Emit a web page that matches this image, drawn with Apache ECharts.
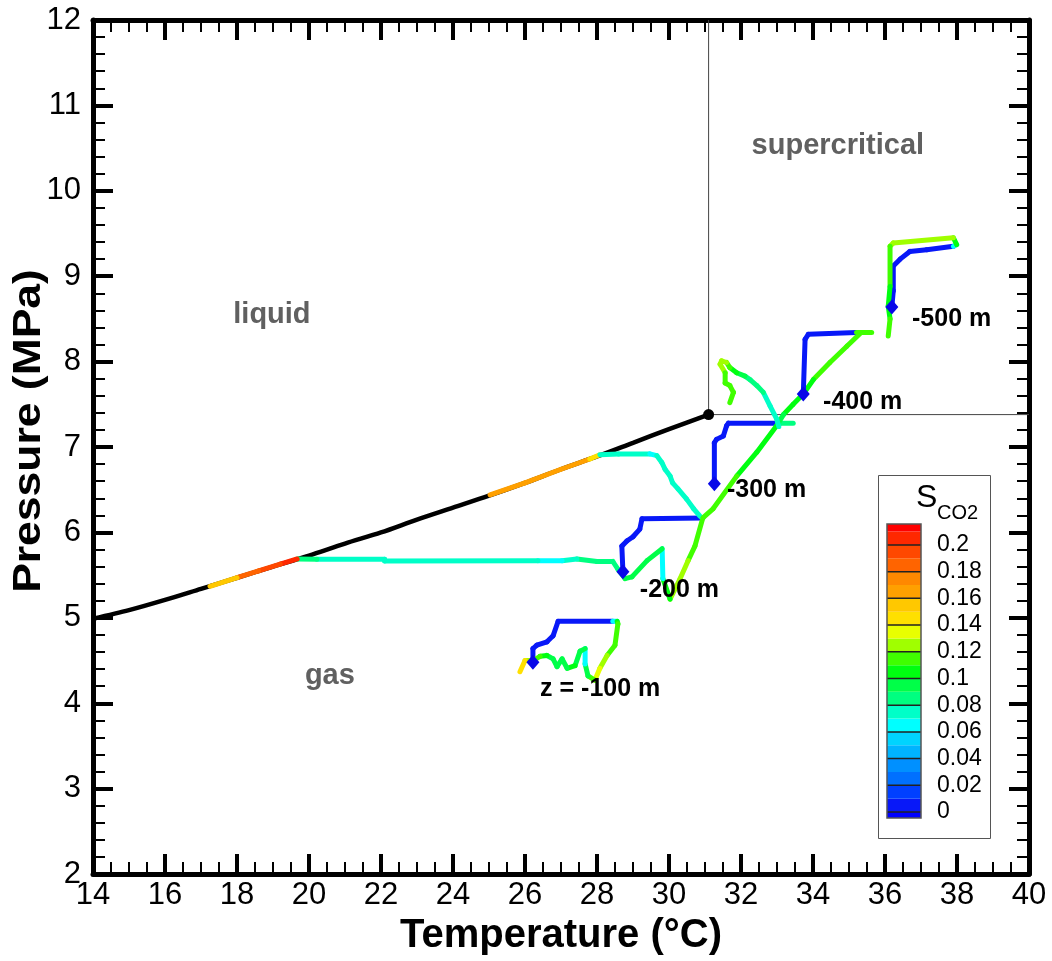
<!DOCTYPE html>
<html><head><meta charset="utf-8">
<script src="https://cdn.jsdelivr.net/npm/echarts@6/dist/echarts.min.js"></script>
<style>html,body{margin:0;padding:0;background:#fff}#c{width:1052px;height:961px}</style>
</head><body><div id="c"></div>
<script>
// ---------- DATA ----------
// saturation (liquid-gas boundary) curve, T (°C) and P (MPa)
const satT = [14, 15, 16, 17, 18, 19, 20, 21, 22, 23, 24, 25, 26, 27, 28, 29, 30, 31.1];
const satP = [4.99, 5.09, 5.21, 5.34, 5.47, 5.60, 5.73, 5.87, 6.00, 6.15, 6.29, 6.43, 6.58, 6.74, 6.89, 7.05, 7.21, 7.38];
const critT = 31.1, critP = 7.38;

// trajectories: [T, P, S_CO2 of the segment arriving at this point]
const traj100 = [
  [26.22,4.48,0],[26.22,4.64,0],[26.33,4.68,0],[26.61,4.72,0],[26.78,4.79,0],[26.92,4.96,0],
  [28.44,4.96,0],[28.56,4.96,0.065],[28.58,4.93,0.105],[28.50,4.68,0.115],[28.28,4.56,0.115],
  [28.08,4.41,0.125],[27.94,4.27,0.135],[27.75,4.32,0.115],[27.67,4.46,0.095],[27.67,4.64,0.065],
  [27.53,4.61,0.095],[27.39,4.44,0.095],[27.17,4.41,0.105],[27.03,4.52,0.095],[26.89,4.43,0.095],
  [26.78,4.52,0.095],[26.61,4.56,0.095],[26.42,4.55,0.105],[26.22,4.50,0.115],[26.00,4.50,0.125],
  [25.86,4.37,0.14]
];
const traj200 = [
  [28.72,5.54,0],[28.69,5.84,0],[28.83,5.90,0],[29.00,5.95,0],[29.19,6.04,0],[29.25,6.16,0],
  [30.94,6.17,0],[30.72,5.84,0.115],[30.53,5.67,0.115],[30.31,5.46,0.12],[30.03,5.22,0.12],
  [29.83,5.46,0.105],[29.81,5.81,0.065],[29.39,5.67,0.095],[28.97,5.48,0.095],[28.78,5.46,0.095],
  [28.58,5.57,0.09],[28.44,5.66,0.085],[28.00,5.66,0.085],[27.44,5.69,0.085],[27.03,5.67,0.075],
  [26.36,5.67,0.065],[22.10,5.665,0.075],[22.10,5.685,0.075],[20.22,5.685,0.075],[19.67,5.69,0.085],
  [19.20,5.63,0.205],[18.60,5.55,0.19],[18.00,5.47,0.18],[17.25,5.37,0.155]
];
const traj300 = [
  [31.26,6.57,0],[31.26,7.05,0],[31.32,7.09,0],[31.51,7.13,0],[31.60,7.25,0],[31.65,7.28,0],
  [33.08,7.28,0],[33.45,7.28,0.085]
];
const traj300b = [
  [25.03,6.44,0.165],[26.00,6.58,0.165],[27.00,6.74,0.165],[27.80,6.86,0.165],[28.08,6.91,0.145],
  [28.60,6.92,0.075],[29.47,6.92,0.075],[29.66,6.90,0.065],[29.80,6.82,0.075],[29.89,6.74,0.075],
  [30.03,6.66,0.075],[30.10,6.58,0.075],[30.25,6.51,0.075],[30.49,6.39,0.075],[30.68,6.28,0.075],
  [30.86,6.19,0.075]
];
const traj400 = [
  [33.73,7.62,0],[33.78,8.26,0],[33.87,8.32,0],[35.21,8.34,0],[35.63,8.34,0.115]
];
const traj400b = [
  [35.31,8.33,0.115],[34.94,8.18,0.115],[34.47,7.99,0.115],[34.01,7.79,0.115],[33.73,7.62,0.105],
  [33.45,7.50,0.105],[33.18,7.38,0.105],[32.99,7.25,0.095],[32.44,6.94,0.105],[31.88,6.66,0.105],
  [31.23,6.28,0.115],[30.94,6.17,0.115]
];
const traj400c = [
  [33.05,7.24,0.075],[32.99,7.33,0.075],[32.81,7.48,0.075],[32.62,7.64,0.075],[32.44,7.72,0.085],
  [32.25,7.79,0.085],[32.11,7.83,0.085],[31.88,7.87,0.095],[31.69,7.93,0.105],[31.60,7.99,0.115],
  [31.46,8.01,0.125],[31.42,7.97,0.125],[31.56,7.87,0.125],[31.56,7.75,0.115],[31.69,7.72,0.115],
  [31.79,7.64,0.115],[31.69,7.52,0.115]
];
const traj500 = [
  [36.19,8.64,0],[36.23,8.83,0],[36.23,9.12,0],[36.42,9.20,0],[36.69,9.29,0],[37.16,9.31,0],
  [37.90,9.35,0],[37.99,9.37,0.065],[37.90,9.45,0.105],[36.23,9.39,0.125],[36.14,9.35,0.125],
  [36.14,8.88,0.115],[36.09,8.65,0.105],[36.14,8.50,0.105],[36.09,8.30,0.11]
];
const allPaths = [traj100, traj200, traj300b, traj300, traj400b, traj400c, traj400, traj500];
const startPaths = [traj100, traj200, traj300, traj400, traj500];

// labels (text and anchor in data coordinates)
const depthText = ['z = -100 m', '-200 m', '-300 m', '-400 m', '-500 m'];
const depthT = [26.42, 29.19, 31.61, 34.28, 36.75];
const depthP = [4.17, 5.32, 6.49, 7.53, 8.50];
const phaseText = ['liquid', 'gas', 'supercritical'];
const phaseT = [18.97, 20.58, 34.69];
const phaseP = [8.55, 4.32, 10.52];

// colour scale (S_CO2), one colour per 0.01 band from 0 to 0.22
const bandColors = ['#0818f8','#0040ff','#0070ff','#0090ff','#00b4ff','#00d4ff','#00ffff','#00ffc8',
  '#00ff80','#00ff48','#00ff10','#40ff00','#a0ff00','#e8ff00','#ffe000','#ffc800','#ffa000','#ff8800',
  '#ff6400','#ff4800','#ff2800','#ff0000'];
const belowColor = '#0000ff';
const legendTicks = [0, 0.02, 0.04, 0.06, 0.08, 0.1, 0.12, 0.14, 0.16, 0.18, 0.2];
const legendTickLabels = ['0','0.02','0.04','0.06','0.08','0.1','0.12','0.14','0.16','0.18','0.2'];
const legendMin = -0.0045, legendMax = 0.2157;

// ---------- BUILD ----------
const FONT = "'Liberation Sans', Arial, sans-serif";
function colorFor(s) {
  const k = Math.floor(s / 0.01 + 1e-9);
  if (k < 0) return belowColor;
  return bandColors[Math.min(k, bandColors.length - 1)];
}
const segData = [];
allPaths.forEach(p => {
  for (let i = 1; i < p.length; i++) segData.push([p[i-1][0], p[i-1][1], p[i][0], p[i][1], p[i][2]]);
});
const satData = satT.map((t, i) => [t, satP[i]]);
const diamondData = startPaths.map(p => [p[0][0], p[0][1]]);
const depthData = depthT.map((t, i) => [t, depthP[i], i]);
const phaseData = phaseT.map((t, i) => [t, phaseP[i], i]);
const bandData = [[legendMin, 0, -1]];
for (let k = 0; k < bandColors.length; k++) bandData.push([k * 0.01, Math.min((k + 1) * 0.01, legendMax), k]);
const tickData = legendTicks.map((v, i) => [0, v, i]);

const chart = echarts.init(document.getElementById('c'), null, {renderer: 'canvas'});

const axisCommon = {
  axisLine: {show: true, onZero: false, lineStyle: {color: '#000', width: 5}},
  axisTick: {show: true, inside: true, length: 20, lineStyle: {color: '#000', width: 4}},
  minorTick: {show: true, length: 12, lineStyle: {color: '#000', width: 2}},
  splitLine: {show: false},
};

const option = {
  animation: false,
  backgroundColor: '#fff',
  grid: [
    {left: 93, right: 23, top: 20, bottom: 85, containLabel: false},
    {left: 887, top: 524, width: 34, height: 294}
  ],
  xAxis: [
    Object.assign({}, axisCommon, {
      gridIndex: 0, type: 'value', position: 'bottom', min: 14, max: 40, interval: 2,
      minorTick: Object.assign({}, axisCommon.minorTick, {splitNumber: 4}),
      axisLabel: {show: true, margin: 6, fontSize: 31, color: '#000', fontFamily: FONT, showMinLabel: true, showMaxLabel: true},
      name: 'Temperature (°C)', nameLocation: 'middle', nameGap: 32,
      nameTextStyle: {fontSize: 40, fontWeight: 'bold', color: '#000', fontFamily: FONT}
    }),
    Object.assign({}, axisCommon, {
      gridIndex: 0, type: 'value', position: 'top', min: 14, max: 40, interval: 2,
      minorTick: Object.assign({}, axisCommon.minorTick, {splitNumber: 4}),
      axisLabel: {show: false}
    }),
    {gridIndex: 1, type: 'value', min: 0, max: 1, show: false}
  ],
  yAxis: [
    Object.assign({}, axisCommon, {
      gridIndex: 0, type: 'value', position: 'left', min: 2, max: 12, interval: 1,
      minorTick: Object.assign({}, axisCommon.minorTick, {splitNumber: 5}),
      axisLabel: {show: true, margin: 12, fontSize: 31, color: '#000', fontFamily: FONT, showMinLabel: true, showMaxLabel: true}
    }),
    Object.assign({}, axisCommon, {
      gridIndex: 0, type: 'value', position: 'right', min: 2, max: 12, interval: 1,
      minorTick: Object.assign({}, axisCommon.minorTick, {splitNumber: 5}),
      axisLabel: {show: false}
    }),
    {gridIndex: 1, type: 'value', min: legendMin, max: legendMax, show: false}
  ],
  graphic: [
    {type: 'rect', z: 0, shape: {x: 878.5, y: 475.5, width: 112, height: 363},
     style: {fill: '#fff', stroke: '#555', lineWidth: 1}},
    {type: 'text', z: 10, x: 916, y: 498,
     style: {text: 'S', fontSize: 32, fontFamily: FONT, fill: '#000', align: 'left', verticalAlign: 'middle'}},
    {type: 'text', z: 10, x: 937, y: 513,
     style: {text: 'CO2', fontSize: 20, fontFamily: FONT, fill: '#000', align: 'left', verticalAlign: 'middle'}},
    {type: 'text', z: 10, x: 30, y: 431, rotation: Math.PI / 2, scaleX: 1.17,
     style: {text: 'Pressure (MPa)', fontSize: 38, fontWeight: 'bold', fontFamily: FONT, fill: '#000',
             align: 'center', verticalAlign: 'middle'}}
  ],
  series: [
    {type: 'line', xAxisIndex: 0, yAxisIndex: 0, z: 1, silent: true, symbol: 'none',
     data: [[critT, 12], [critT, critP], [40, critP]],
     lineStyle: {color: '#444', width: 1}},
    {type: 'line', xAxisIndex: 0, yAxisIndex: 0, z: 2, silent: true, symbol: 'none', smooth: 0.3,
     data: satData, lineStyle: {color: '#000', width: 4.5}},
    {type: 'custom', xAxisIndex: 0, yAxisIndex: 0, z: 3, silent: true,
     data: segData, encode: {x: [0, 2], y: [1, 3]},
     renderItem: function (params, api) {
       const a = api.coord([api.value(0), api.value(1)]);
       const b = api.coord([api.value(2), api.value(3)]);
       return {type: 'line', shape: {x1: a[0], y1: a[1], x2: b[0], y2: b[1]},
               style: {stroke: colorFor(api.value(4)), lineWidth: 5, lineCap: 'round'}};
     }},
    {type: 'scatter', xAxisIndex: 0, yAxisIndex: 0, z: 5, silent: true,
     data: [[critT, critP]], symbol: 'circle', symbolSize: 11, itemStyle: {color: '#000', opacity: 1}},
    {type: 'scatter', xAxisIndex: 0, yAxisIndex: 0, z: 6, silent: true,
     data: diamondData, symbol: 'diamond', symbolSize: [13, 15], itemStyle: {color: '#0808e8', opacity: 1}},
    {type: 'custom', xAxisIndex: 0, yAxisIndex: 0, z: 7, silent: true,
     data: depthData, encode: {x: 0, y: 1},
     renderItem: function (params, api) {
       const p = api.coord([api.value(0), api.value(1)]);
       return {type: 'text', x: p[0], y: p[1],
               style: {text: depthText[api.value(2)], fontSize: 25, fontWeight: 'bold', fontFamily: FONT,
                       fill: '#000', align: 'left', verticalAlign: 'middle'}};
     }},
    {type: 'custom', xAxisIndex: 0, yAxisIndex: 0, z: 7, silent: true,
     data: phaseData, encode: {x: 0, y: 1},
     renderItem: function (params, api) {
       const p = api.coord([api.value(0), api.value(1)]);
       return {type: 'text', x: p[0], y: p[1],
               style: {text: phaseText[api.value(2)], fontSize: 29, fontWeight: 'bold', fontFamily: FONT,
                       fill: '#606060', align: 'center', verticalAlign: 'middle'}};
     }},
    {type: 'custom', xAxisIndex: 2, yAxisIndex: 2, z: 8, silent: true,
     data: bandData, encode: {y: [0, 1]},
     renderItem: function (params, api) {
       const lo = api.coord([0, api.value(0)]);
       const hi = api.coord([1, api.value(1)]);
       const k = api.value(2);
       return {type: 'rect', shape: {x: lo[0], y: hi[1], width: hi[0] - lo[0], height: lo[1] - hi[1]},
               style: {fill: k < 0 ? belowColor : bandColors[k]}};
     }},
    {type: 'custom', xAxisIndex: 2, yAxisIndex: 2, z: 9, silent: true,
     data: tickData, encode: {y: 1},
     renderItem: function (params, api) {
       const a = api.coord([0, api.value(1)]);
       const b = api.coord([1, api.value(1)]);
       return {type: 'group', children: [
         {type: 'line', shape: {x1: a[0], y1: a[1], x2: b[0], y2: b[1]}, style: {stroke: '#222', lineWidth: 1.5}},
         {type: 'text', x: b[0] + 16, y: b[1],
          style: {text: legendTickLabels[api.value(2)], fontSize: 23, fontFamily: FONT, fill: '#000',
                  align: 'left', verticalAlign: 'middle'}}
       ]};
     }},
    {type: 'custom', xAxisIndex: 2, yAxisIndex: 2, z: 9, silent: true,
     data: [[legendMin, legendMax]], encode: {y: [0, 1]},
     renderItem: function (params, api) {
       const lo = api.coord([0, api.value(0)]);
       const hi = api.coord([1, api.value(1)]);
       return {type: 'rect', shape: {x: lo[0], y: hi[1], width: hi[0] - lo[0], height: lo[1] - hi[1]},
               style: {fill: 'none', stroke: '#555', lineWidth: 1.5}};
     }}
  ]
};
chart.setOption(option);
</script>
</body></html>
